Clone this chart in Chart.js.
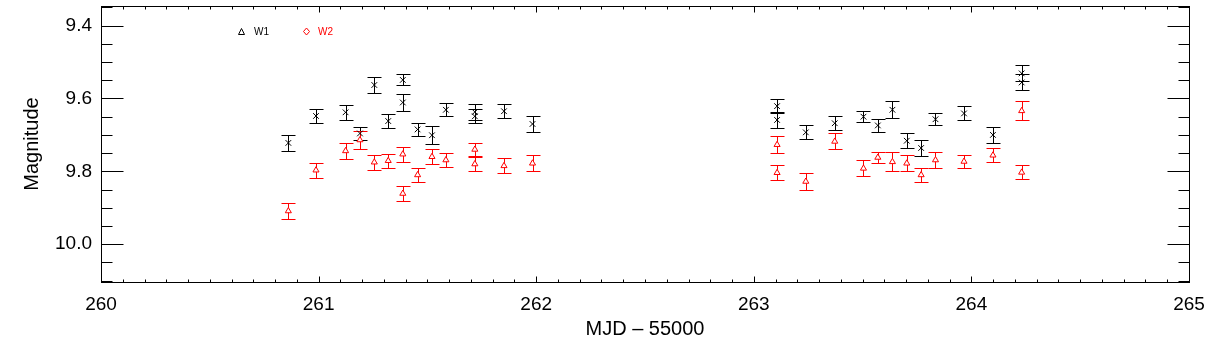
<!DOCTYPE html>
<html>
<head>
<meta charset="utf-8">
<script src="https://cdn.jsdelivr.net/npm/chart.js@4"></script>
<style>
  html, body { margin: 0; padding: 0; background: #fff; }
  #wrap { width: 1219px; height: 361px; }
</style>
</head>
<body>
<div id="wrap"><canvas id="grafikMag" width="1219" height="361"></canvas></div>
<script>
// epochs (MJD - 55000), shared by both bands
var mjd = [260.861, 260.988, 261.124, 261.190, 261.256, 261.320, 261.387, 261.387, 261.455, 261.521,
           261.585, 261.718, 261.718, 261.852, 261.983,
           263.107, 263.107, 263.239, 263.372, 263.504, 263.570, 263.637, 263.703, 263.769, 263.835,
           263.966, 264.099, 264.231, 264.231];
var magW1 = [9.722, 9.648, 9.638, 9.696, 9.563, 9.662, 9.549, 9.611, 9.685, 9.701,
             9.631, 9.637, 9.649, 9.635, 9.670,
             9.621, 9.659, 9.693, 9.668, 9.650, 9.674, 9.631, 9.716, 9.736, 9.657,
             9.641, 9.700, 9.531, 9.556];
var errW1 = [0.023, 0.019, 0.021, 0.018, 0.021, 0.019, 0.015, 0.022, 0.018, 0.025,
             0.018, 0.021, 0.019, 0.019, 0.021,
             0.019, 0.022, 0.019, 0.019, 0.015, 0.019, 0.023, 0.021, 0.023, 0.016,
             0.019, 0.023, 0.022, 0.022];
var magW2 = [9.909, 9.797, 9.744, 9.714, 9.775, 9.771, 9.753, 9.861, 9.810, 9.760,
             9.769, 9.740, 9.780, 9.785, 9.778,
             9.727, 9.804, 9.828, 9.718, 9.792, 9.762, 9.774, 9.778, 9.810, 9.769,
             9.773, 9.756, 9.634, 9.803];
var errW2 = [0.022, 0.021, 0.021, 0.024, 0.021, 0.019, 0.021, 0.021, 0.019, 0.021,
             0.018, 0.019, 0.020, 0.021, 0.022,
             0.023, 0.021, 0.022, 0.022, 0.022, 0.016, 0.026, 0.022, 0.018, 0.023,
             0.019, 0.019, 0.026, 0.019];
var xTicks = [260, 261, 262, 263, 264, 265];
var yTicks = [9.4, 9.6, 9.8, 10.0];

var FONT = 'Liberation Sans';

function toPoints(xs, ys) {
    return xs.map(function (x, i) { return { x: x, y: ys[i] }; });
}

// error bars with caps, drawn from the data through the scales
var errorBars = {
    id: 'errorBars',
    beforeDatasetsDraw: function (chart) {
        var ctx = chart.ctx;
        var xs = chart.scales.x, ys = chart.scales.y;
        var sets = [[magW1, errW1, '#000000'], [magW2, errW2, '#ff0000']];
        ctx.save();
        ctx.lineWidth = 1;
        sets.forEach(function (s) {
            ctx.strokeStyle = s[2];
            mjd.forEach(function (t, i) {
                var px = Math.round(xs.getPixelForValue(t)) + 0.5;
                var y1 = Math.round(ys.getPixelForValue(s[0][i] - s[1][i])) + 0.5;
                var y2 = Math.round(ys.getPixelForValue(s[0][i] + s[1][i])) + 0.5;
                ctx.beginPath();
                ctx.moveTo(px, y1); ctx.lineTo(px, y2);
                ctx.moveTo(px - 7, y1); ctx.lineTo(px + 7, y1);
                ctx.moveTo(px - 7, y2); ctx.lineTo(px + 7, y2);
                ctx.stroke();
            });
        });
        ctx.restore();
    }
};

// IDL style box: inward ticks on all sides, axis titles, legend
var frame = {
    id: 'frame',
    afterDraw: function (chart) {
        var ctx = chart.ctx;
        var a = chart.chartArea;
        var xs = chart.scales.x, ys = chart.scales.y;
        var L = Math.round(a.left) + 0.5, R = Math.round(a.right) + 0.5;
        var T = Math.round(a.top) + 0.5, B = Math.round(a.bottom) + 0.5;
        ctx.save();
        ctx.strokeStyle = '#000';
        ctx.lineWidth = 1;
        ctx.strokeRect(L, T, R - L, B - T);
        ctx.beginPath();
        for (var v = 260; v <= 265.0001; v += 0.1) {
            var px = Math.round(xs.getPixelForValue(v)) + 0.5;
            var major = Math.abs(v - Math.round(v)) < 1e-6;
            var len = major ? 6 : 3;
            ctx.moveTo(px, B); ctx.lineTo(px, B - len);
            ctx.moveTo(px, T); ctx.lineTo(px, T + len);
        }
        for (var k = 0; k <= 15; k++) {
            var m = 9.35 + k * 0.05;
            var py = Math.round(ys.getPixelForValue(m)) + 0.5;
            var maj = Math.abs(m * 5 - Math.round(m * 5)) < 1e-6;
            var l2 = maj ? 22 : 11;
            ctx.moveTo(L, py); ctx.lineTo(L + l2, py);
            ctx.moveTo(R, py); ctx.lineTo(R - l2, py);
        }
        ctx.stroke();

        // axis titles
        ctx.fillStyle = '#000';
        ctx.font = '20px ' + FONT;
        ctx.textAlign = 'center';
        ctx.textBaseline = 'middle';
        ctx.fillText('MJD \u2013 55000', (a.left + a.right) / 2, 329);
        ctx.save();
        ctx.translate(32, (a.top + a.bottom) / 2);
        ctx.rotate(-Math.PI / 2);
        ctx.fillText('Magnitude', 0, 0);
        ctx.restore();

        // legend
        ctx.lineWidth = 1;
        ctx.beginPath();
        ctx.moveTo(238.5, 34.5); ctx.lineTo(244.5, 34.5); ctx.lineTo(241.5, 28.5); ctx.closePath();
        ctx.stroke();
        ctx.strokeStyle = '#ff0000';
        ctx.beginPath();
        ctx.moveTo(306.5, 28); ctx.lineTo(309.5, 31.5); ctx.lineTo(306.5, 35); ctx.lineTo(303.5, 31.5); ctx.closePath();
        ctx.stroke();
        ctx.font = '10px ' + FONT;
        ctx.textAlign = 'left';
        ctx.fillStyle = '#000';
        ctx.fillText('W1', 254, 32);
        ctx.fillStyle = '#ff0000';
        ctx.fillText('W2', 318, 32);
        ctx.restore();
    }
};

var ctx = document.getElementById('grafikMag').getContext('2d');
new Chart(ctx, {
    type: 'scatter',
    data: {
        datasets: [{
            label: 'W1',
            data: toPoints(mjd, magW1),
            pointStyle: 'crossRot',
            pointRadius: 4,
            borderColor: '#000000',
            backgroundColor: '#000000',
            borderWidth: 1
        }, {
            label: 'W2',
            data: toPoints(mjd, magW2),
            pointStyle: 'triangle',
            pointRadius: 3.5,
            borderColor: '#ff0000',
            backgroundColor: '#ffffff',
            borderWidth: 1
        }]
    },
    options: {
        responsive: false,
        animation: false,
        events: [],
        layout: { padding: { top: 6, right: 30, left: 0, bottom: 0 } },
        plugins: { legend: { display: false }, tooltip: { enabled: false } },
        scales: {
            x: {
                type: 'linear',
                min: 260,
                max: 265,
                grid: { display: false, drawTicks: false },
                border: { display: false },
                afterBuildTicks: function (scale) {
                    scale.ticks = xTicks.map(function (v) { return { value: v }; });
                },
                afterFit: function (scale) {
                    scale.height = 79;
                    scale.paddingLeft = 0;
                    scale.paddingRight = 0;
                },
                ticks: {
                    padding: 11,
                    color: '#000',
                    maxRotation: 0,
                    autoSkip: false,
                    font: { family: FONT, size: 19 },
                    callback: function (v) { return String(v); }
                }
            },
            y: {
                type: 'linear',
                reverse: true,
                min: 9.346,
                max: 10.104,
                grid: { display: false, drawTicks: false },
                border: { display: false },
                afterBuildTicks: function (scale) {
                    scale.ticks = yTicks.map(function (v) { return { value: v }; });
                },
                afterFit: function (scale) {
                    scale.width = 101;
                    scale.paddingTop = 0;
                    scale.paddingBottom = 0;
                },
                ticks: {
                    padding: 9,
                    color: '#000',
                    autoSkip: false,
                    font: { family: FONT, size: 19 },
                    callback: function (v) { return v.toFixed(1); }
                }
            }
        }
    },
    plugins: [errorBars, frame]
});
</script>
</body>
</html>
